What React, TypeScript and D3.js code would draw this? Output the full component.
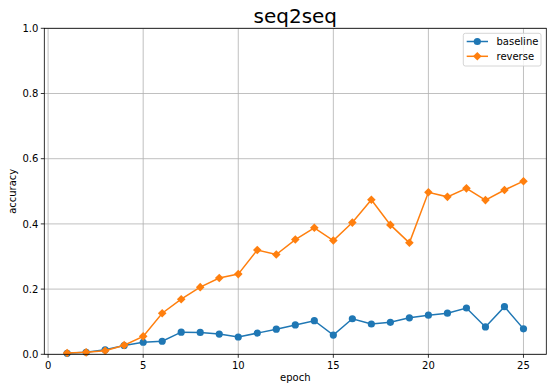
import React from "react";
import * as d3 from "d3";

const epochs = [1,2,3,4,5,6,7,8,9,10,11,12,13,14,15,16,17,18,19,20,21,22,23,24,25];
const baseline = [0.003,0.006,0.014,0.027,0.037,0.040,0.068,0.067,0.062,0.053,0.065,0.077,0.090,0.103,0.059,0.109,0.093,0.098,0.112,0.120,0.126,0.142,0.084,0.146,0.078];
const reverse = [0.004,0.006,0.011,0.028,0.055,0.126,0.169,0.206,0.234,0.246,0.320,0.306,0.352,0.388,0.349,0.404,0.474,0.397,0.342,0.497,0.483,0.509,0.473,0.504,0.531];
const xTicks = [0,5,10,15,20,25];
const yTicks = [0,0.2,0.4,0.6,0.8,1.0];

const W = 553, H = 392;
const L = 44.3, R = 546.3, T = 28.3, B = 354.3;
const FONT = "DejaVu Sans, sans-serif";

export default function App() {
  const x = d3.scaleLinear().domain([-0.2, 26.2]).range([L, R]);
  const y = d3.scaleLinear().domain([0, 1]).range([B, T]);
  const line = d3.line<number>().x((_, i) => x(epochs[i])).y(d => y(d));
  const diamond = (cx: number, cy: number, r: number) =>
    `M${cx},${cy - r}L${cx + r},${cy}L${cx},${cy + r}L${cx - r},${cy}Z`;
  const blue = "#1f77b4", orange = "#ff7f0e";
  return (
    <svg width={W} height={H} style={{ position: "absolute", left: 0, top: 0 }} fontFamily={FONT}>
      <rect x={0} y={0} width={W} height={H} fill="#fff" />
      {xTicks.map(t => (
        <line key={"gx" + t} x1={x(t)} x2={x(t)} y1={T} y2={B} stroke="#b0b0b0" strokeWidth={0.8} />
      ))}
      {yTicks.map(t => (
        <line key={"gy" + t} x1={L} x2={R} y1={y(t)} y2={y(t)} stroke="#b0b0b0" strokeWidth={0.8} />
      ))}
      <path d={line(baseline) || ""} fill="none" stroke={blue} strokeWidth={1.5} />
      {baseline.map((v, i) => (
        <circle key={"b" + i} cx={x(epochs[i])} cy={y(v)} r={3.6} fill={blue} />
      ))}
      <path d={line(reverse) || ""} fill="none" stroke={orange} strokeWidth={1.5} />
      {reverse.map((v, i) => (
        <path key={"r" + i} d={diamond(x(epochs[i]), y(v), 4.3)} fill={orange} />
      ))}
      <rect x={L} y={T} width={R - L} height={B - T} fill="none" stroke="#000" strokeWidth={0.8} />
      {xTicks.map(t => (
        <g key={"tx" + t}>
          <line x1={x(t)} x2={x(t)} y1={B} y2={B + 3.5} stroke="#000" strokeWidth={0.8} />
          <text x={x(t)} y={B + 15} fontSize={10} textAnchor="middle" fill="#000">{t}</text>
        </g>
      ))}
      {yTicks.map(t => (
        <g key={"ty" + t}>
          <line x1={L - 3.5} x2={L} y1={y(t)} y2={y(t)} stroke="#000" strokeWidth={0.8} />
          <text x={L - 6} y={y(t) + 3.6} fontSize={10} textAnchor="end" fill="#000">{t.toFixed(1)}</text>
        </g>
      ))}
      <text x={(L + R) / 2} y={381} fontSize={10} textAnchor="middle" fill="#000">epoch</text>
      <text transform={`translate(15.5,${(T + B) / 2}) rotate(-90)`} fontSize={10} textAnchor="middle" fill="#000">accuracy</text>
      <text x={(L + R) / 2} y={23} fontSize={20} textAnchor="middle" fill="#000">seq2seq</text>
      <g>
        <rect x={463.3} y={33.3} width={77.7} height={32.7} rx={2} fill="#fff" fillOpacity={0.8} stroke="#cccccc" strokeWidth={0.8} />
        <line x1={466.7} x2={488} y1={41.5} y2={41.5} stroke={blue} strokeWidth={1.5} />
        <circle cx={477.3} cy={41.5} r={3.6} fill={blue} />
        <text x={496.5} y={45.1} fontSize={10} fill="#000">baseline</text>
        <line x1={466.7} x2={488} y1={56.3} y2={56.3} stroke={orange} strokeWidth={1.5} />
        <path d={diamond(477.3, 56.3, 4.3)} fill={orange} />
        <text x={496.5} y={59.9} fontSize={10} fill="#000">reverse</text>
      </g>
    </svg>
  );
}
